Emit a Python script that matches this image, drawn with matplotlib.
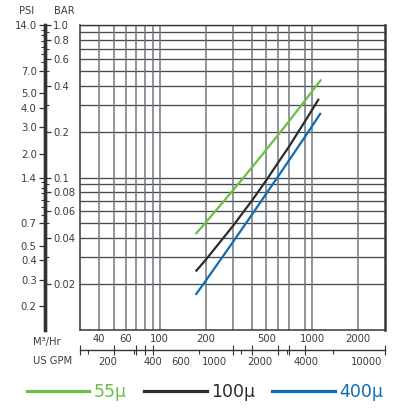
import numpy as np
import matplotlib
matplotlib.use("Agg")
import matplotlib.pyplot as plt
from matplotlib.ticker import NullFormatter

# pressure drop vs flow, in BAR and M3/Hr
flow = [172, 200, 300, 400, 500, 600, 700, 900]
green_flow = flow + [1145]
green_bar = [0.0426, 0.0506, 0.0817, 0.1156, 0.1525, 0.191, 0.232, 0.321, 0.439]
black_flow = flow + [1105]
black_bar = [0.0242, 0.0288, 0.0477, 0.070, 0.096, 0.126, 0.158, 0.235, 0.328]
blue_flow = flow + [1138]
blue_bar = [0.0170, 0.0210, 0.0374, 0.0566, 0.0785, 0.1023, 0.1285, 0.186, 0.265]
series_labels = ["55\u03bc", "100\u03bc", "400\u03bc"]
series_colors = ["#6cbf45", "#2a2c2f", "#0f6cb3"]

# grid / scales
bar_grid = [1.0, 0.9, 0.8, 0.7, 0.6, 0.5, 0.4, 0.3, 0.2,
            0.1, 0.09, 0.08, 0.07, 0.06, 0.05, 0.04, 0.03, 0.02]
m3_grid = [40, 50, 60, 70, 80, 90, 100, 200, 300, 400, 500, 600, 700, 900, 1000, 2000]
bar_major = [1.0, 0.8, 0.6, 0.4, 0.2, 0.1, 0.08, 0.06, 0.04, 0.02]
bar_minor = [0.9, 0.7, 0.5, 0.3, 0.09, 0.07, 0.05, 0.03]
psi_major = [14.0, 7.0, 5.0, 4.0, 3.0, 2.0, 1.4, 0.7, 0.5, 0.4, 0.3, 0.2]
psi_minor = [13, 12, 11, 10, 9, 8, 1.3, 1.2, 1.1, 1.0, 0.9, 0.8]
PSI_PER_BAR = 14.0
m3_labels = [40, 60, 100, 200, 500, 1000, 2000]
m3_ticks = [30, 50, 70, 80, 90, 300, 400, 600, 700, 900, 3000]
gpm_labels = [200, 400, 600, 1000, 2000, 4000, 10000]
gpm_ticks = [150, 300, 400, 600, 800, 1000, 1500, 2000, 3000, 4000, 6000]
GPM_PER_M3 = 4.40287

W, H = 394, 412
TXT = "#3a3d41"
AXC = "#2e3338"
GRID_H = "#464b50"
GRID_V = "#73787d"
FS = 7.2


def rect(x0, y0, x1, y1):
    return [x0 / W, 1 - y1 / H, (x1 - x0) / W, (y1 - y0) / H]


fig = plt.figure(figsize=(W / 100, H / 100), dpi=100)

# main chart
ax = fig.add_axes(rect(80, 25, 385, 330))
ax.set_xscale("log")
ax.set_yscale("log")
ax.set_xlim(30, 3000)
ax.set_ylim(0.01, 1)
ax.hlines(bar_grid, 30, 3000, color=GRID_H, lw=0.95, zorder=1)
ax.vlines(m3_grid, 0.01, 1, color=GRID_V, lw=1.1, zorder=1)
ax.tick_params(which="both", length=0, labelbottom=False, labelleft=False)
for side, lw in [("left", 1.1), ("right", 1.8), ("top", 1.0), ("bottom", 1.1)]:
    ax.spines[side].set_linewidth(lw)
    ax.spines[side].set_color("#33383d")

for fx, fy, lab, col in zip([green_flow, black_flow, blue_flow],
                            [green_bar, black_bar, blue_bar],
                            series_labels, series_colors):
    ax.plot(fx, fy, color=col, lw=1.6, solid_capstyle="butt", zorder=3, label=lab)

# left scale: PSI on the left side, BAR on the right side
axp = fig.add_axes(rect(45, 25, 45.01, 330))
axp.set_yscale("log")
axp.set_ylim(0.01, 1)
axp.set_xticks([])
for s in ["top", "bottom", "right"]:
    axp.spines[s].set_visible(False)
axp.spines["left"].set_linewidth(2.4)
axp.spines["left"].set_color(AXC)
axp.set_yticks([p / PSI_PER_BAR for p in psi_major], labels=[f"{p:.1f}" for p in psi_major])
axp.set_yticks([p / PSI_PER_BAR for p in psi_minor], minor=True)
axp.yaxis.set_minor_formatter(NullFormatter())
axp.tick_params(axis="y", which="major", length=4, width=0.9, pad=2, labelsize=FS,
                labelcolor=TXT, color=AXC)
axp.tick_params(axis="y", which="minor", length=3, width=0.8, color=AXC)

axb = axp.twinx()
axb.set_yscale("log")
axb.set_ylim(0.01, 1)
for s in ["top", "bottom", "left"]:
    axb.spines[s].set_visible(False)
axb.spines["right"].set_linewidth(2.4)
axb.spines["right"].set_color(AXC)
axb.set_yticks(bar_major, labels=[f"{b:g}" if b < 1 else "1.0" for b in bar_major])
axb.set_yticks(bar_minor, minor=True)
axb.yaxis.set_minor_formatter(NullFormatter())
axb.tick_params(axis="y", which="major", length=4, width=0.9, pad=2, labelsize=FS,
                labelcolor=TXT, color=AXC)
axb.tick_params(axis="y", which="minor", length=3, width=0.8, color=AXC)

# bottom scale: M3/Hr above the line, US GPM below
axg = fig.add_axes(rect(80, 350, 385, 350.01))
axg.set_xscale("log")
axg.set_xlim(30 * GPM_PER_M3, 3000 * GPM_PER_M3)
axg.set_yticks([])
for s in ["top", "left", "right"]:
    axg.spines[s].set_visible(False)
axg.spines["bottom"].set_linewidth(1.0)
axg.spines["bottom"].set_color(AXC)
axg.set_xticks(gpm_labels, labels=[str(g) for g in gpm_labels])
axg.set_xticks(gpm_ticks, minor=True)
axg.xaxis.set_minor_formatter(NullFormatter())
axg.tick_params(axis="x", which="major", length=0, pad=5.3, labelsize=FS, labelcolor=TXT)
axg.tick_params(axis="x", which="minor", length=3.2, width=0.8, color=AXC)

axm = axg.twiny()
axm.set_xscale("log")
axm.set_xlim(30, 3000)
for s in ["top", "bottom", "left", "right"]:
    axm.spines[s].set_visible(False)
axm.set_xticks(m3_labels, labels=[str(m) for m in m3_labels])
axm.set_xticks(m3_ticks, minor=True)
axm.xaxis.set_minor_formatter(NullFormatter())
axm.tick_params(axis="x", which="major", length=0, pad=4.4, labelsize=FS, labelcolor=TXT)
axm.tick_params(axis="x", which="minor", length=6.5, width=0.8, direction="inout", color=AXC)

# axis titles
fig.text(27 / W, 1 - 11 / H, "PSI", ha="center", va="center", fontsize=FS, color=TXT)
fig.text(64 / W, 1 - 11 / H, "BAR", ha="center", va="center", fontsize=FS, color=TXT)
fig.text(33 / W, 1 - 342 / H, "M\u00b3/Hr", ha="left", va="center", fontsize=FS, color=TXT)
fig.text(33 / W, 1 - 361 / H, "US GPM", ha="left", va="center", fontsize=FS, color=TXT)

# legend
handles = [plt.Line2D([], [], color=c, lw=2.3) for c in series_colors]
fig.legend(handles, series_labels, loc="center", bbox_to_anchor=(205 / W, 1 - 392 / H),
           ncol=3, frameon=False, fontsize=12.5, handlelength=3.6, handletextpad=0.25,
           columnspacing=1.0, labelcolor=series_colors)

fig.savefig("out.png", dpi=100)
